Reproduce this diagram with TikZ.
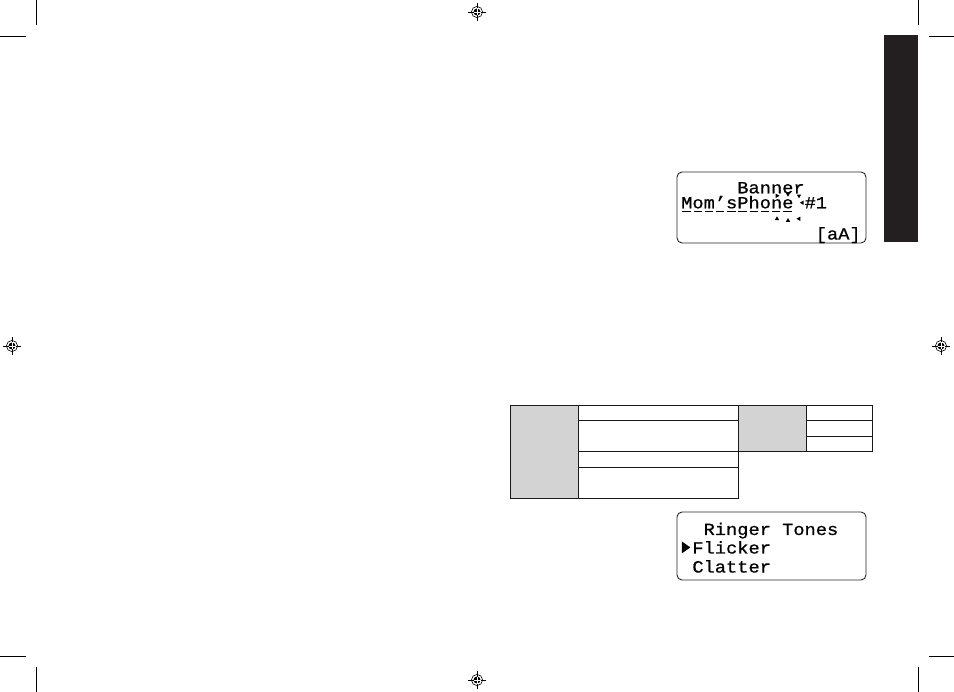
\documentclass[tikz,border=0pt]{standalone}
\usepackage{fontspec}
\newfontfamily\lcdfont[FakeStretch=1.1, FakeBold=0.7]{Liberation Mono}
\usetikzlibrary{positioning, shapes.geometric}
\definecolor{tabblack}{HTML}{231F20}
\definecolor{cellgrey}{HTML}{D3D3D3}

\begin{document}
\begin{tikzpicture}[x=1pt, y=-1pt,
    lcdbox/.style={draw=black!85, line width=0.9pt, rounded corners=5pt},
    lcdtext/.style={font=\lcdfont\fontsize{17}{17}\selectfont, inner sep=0pt, anchor=base west},
    cell/.style={draw=black!90, line width=0.9pt},
    greycell/.style={cell, fill=cellgrey},
    cropline/.style={line width=0.9pt},
    blinkmark/.style={isosceles triangle, isosceles triangle apex angle=60, fill=black, inner sep=0pt, minimum height=3.8pt, minimum width=3.8pt}
]

    % page frame
    \useasboundingbox (0,0) rectangle (954,692);

    % 1. crop marks in the four corners
    \foreach \xa/\ya/\xb/\yb in {36/0/36/25.5, 0/36/25.5/36, 918/0/918/25.5, 928.5/36/954/36,
                                 0/656/25.5/656, 36/666.5/36/692, 928.5/656/954/656, 918/666.5/918/692}
        \draw[cropline] (\xa,\ya) -- (\xb,\yb);

    % 2. registration targets
    \foreach \cx/\cy [count=\k] in {477/12, 12/346, 477/680, 941/346}
    {
        \coordinate (reg\k) at (\cx,\cy);
        \draw[line width=0.6pt] (reg\k) circle (5.6pt);
        \fill (reg\k) circle (3.5pt);
        \draw[line width=0.6pt] ([xshift=-9pt]reg\k) -- ([xshift=9pt]reg\k);
        \draw[line width=0.6pt] ([yshift=-9pt]reg\k) -- ([yshift=9pt]reg\k);
        \draw[white, line width=0.5pt] ([xshift=-3.5pt]reg\k) -- ([xshift=3.5pt]reg\k);
        \draw[white, line width=0.5pt] ([yshift=-3.5pt]reg\k) -- ([yshift=3.5pt]reg\k);
    }

    % 3. black side tab
    \fill[tabblack] (884,35) rectangle (918,242);

    % 4. banner screen
    \draw[lcdbox] (677,172) rectangle (866,243);
    \node[lcdtext] (bannertitle) at (737.1,193.3) {Banner};
    \node[lcdtext] (mom) at (681,208.3) {Mom’sPhone};
    \node[lcdtext] (slot) at (804.4,208.3) {\#1};
    \node[lcdtext] (caseflag) at (815.6,239.5) {[aA]};
    \draw[line width=0.8pt, dash pattern=on 8.4pt off 2.8pt]
        ([xshift=1.4pt, yshift=-3.4pt]mom.base west) -- ([yshift=-3.4pt]mom.base east);

    % blinking cursor round the last letter
    \foreach \px/\py/\rot [count=\k] in {777/195.8/-45, 788/194.2/-90, 799/195.8/-135,
                                         799/218.8/135, 788/220.6/90, 777/218.8/45}
        \node[blinkmark, shape border rotate=\rot] (blink\k) at (\px,\py) {};
    \node[blinkmark, shape border rotate=180, left=0.6pt of slot] (blinkright) {};

    % 5. table
    \draw[greycell] (510.5,405.5) rectangle (578,498);
    \draw[cell] (578,405.5) rectangle (738.5,420);
    \draw[cell] (578,420) rectangle (738.5,451.3);
    \draw[cell] (578,451.3) rectangle (738.5,467);
    \draw[cell] (578,467) rectangle (738.5,498);
    \draw[greycell] (738.5,405.5) rectangle (806,451.3);
    \draw[cell] (806,405.5) rectangle (872.5,420);
    \draw[cell] (806,420) rectangle (872.5,436.7);
    \draw[cell] (806,436.7) rectangle (872.5,451.3);

    % 6. ringer tones screen
    \draw[lcdbox] (677,512) rectangle (866,580);
    \node[lcdtext] (ringtitle) at (703.4,535) {Ringer Tones};
    \node[lcdtext] (flicker) at (692.2,553.5) {Flicker};
    \node[lcdtext] (clatter) at (692.2,572.5) {Clatter};
    \node[isosceles triangle, isosceles triangle apex angle=70, fill=black, inner sep=0pt,
          minimum height=8.5pt, minimum width=6pt, left=1.5pt of flicker] (pointer) {};

\end{tikzpicture}
\end{document}
